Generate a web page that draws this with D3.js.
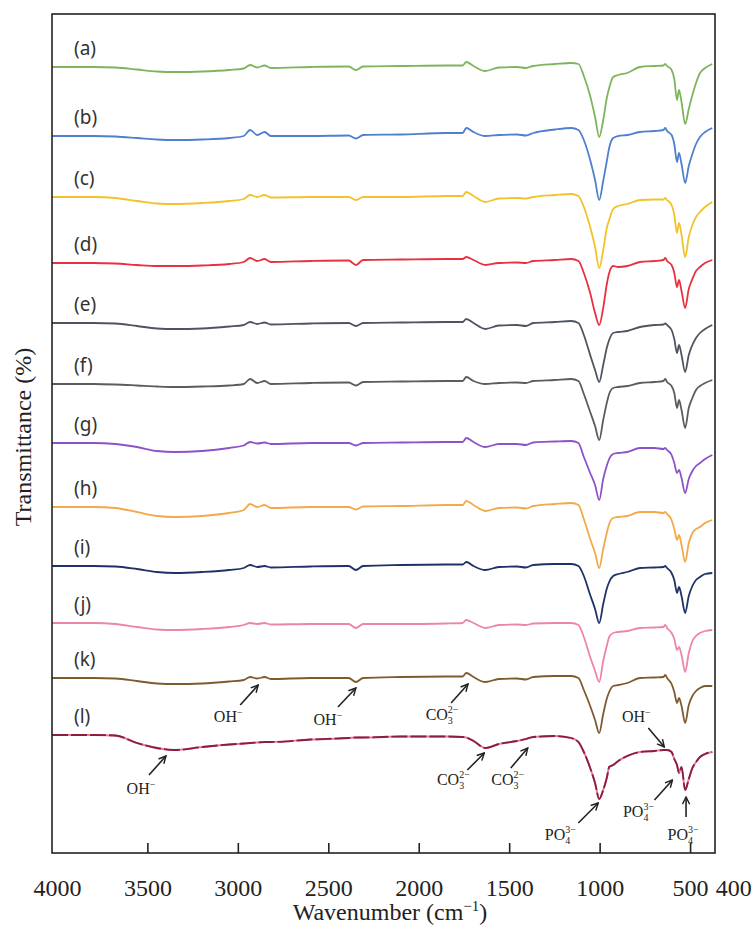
<!DOCTYPE html>
<html>
<head>
<meta charset="utf-8">
<script src="https://cdn.jsdelivr.net/npm/d3@7"></script>
<style>
  body { margin: 0; background: #fff; }
  text { fill: #222; }
  .serif { font-family: 'Liberation Serif', serif; }
</style>
</head>
<body>
<svg id="chart" width="752" height="927"></svg>
<script>
// wavenumber grid shared by all spectra (cm-1)
var wn = [4030, 3800, 3680, 3560, 3450, 3350, 3200, 3050, 2970, 2935, 2895, 2855, 2820, 2600,
  2390, 2350, 2310, 2100, 1850, 1760, 1740, 1700, 1635, 1560, 1460, 1410, 1370, 1250, 1160,
  1120, 1090, 1055, 1028, 1005, 983, 962, 950, 928, 900, 850, 780, 700, 650, 640, 630, 605,
  590, 575, 564, 550, 530, 510, 490, 470, 448, 420, 380];

var names = ['(a)', '(b)', '(c)', '(d)', '(e)', '(f)', '(g)', '(h)', '(i)', '(j)', '(k)', '(l)'];
var colors = ['#7fb45d', '#4f7fcf', '#f2c22a', '#e8313f', '#4e5560', '#5c5c5c',
  '#8c52c8', '#f3a84a', '#1f3268', '#ec86a6', '#7f5a2e', '#8a1e3c'];

// stacking offset of each spectrum (a.u.)
var offsets = [786, 717, 656, 590, 530, 469, 410, 346, 287, 230, 175, 118];

// absorption depth below each spectrum's offset (a.u.)
var dA = [0, 0, 0.5, 2.5, 4.5, 5, 4.5, 3, 1.5, -2, 0.5, -1.5, 1, 0, -0.5, 3, -0.5, -1, -1.5, -1.5, -5, -1, 4, 0.5, 0, 1, -1, -3, -4,
  -3, 9, 29, 50, 70, 53, 30, 21, 10, 8, 6, 0, -1, -1.5, -3, -1, 3, 12, 33, 23, 35, 57, 42, 28, 16, 6, 1, -3];
var dB = [0, 0, 0.5, 2, 3.5, 4, 3.5, 2, 0, -6, -1, -4, 0, 0, -0.5, 2.5, -1, -1.5, -3, -3, -8, -4, 0, -1, -1.5, -0.5, -3, -6.5, -8,
  -6, 4, 24, 44, 64, 45, 24, 12, 2, 0, -1, -4, -5, -6, -8, -5, -1, 8, 26, 17, 28, 47, 30, 18, 8, 1, -4, -8];
var dC = [0, 0, 1, 4, 6.5, 7, 6, 4, 2, -2, 0, -2, 0.5, 0, 0, 3, 0, 0, -1, -1, -5, -1, 5, 1.5, 1, 1.5, 0, -2, -3,
  -1, 10, 30, 50, 71, 53, 30, 23, 12, 9, 7, 3, 2.5, 2.5, 1, 3, 8, 18, 36, 26, 38, 60, 40, 28, 20, 15, 10, 5];
var dD = [0, 0, 0.5, 2, 3, 3, 2.5, 1, -1, -5, -2, -4, -1, -2, -2.5, 2, -3, -3.5, -4, -4, -6, -3, 2, 0, -0.5, 0, -2, -3, -4,
  -2, 10, 30, 50, 62, 45, 20, 10, 3, 4, 3, -1, -2, -3, -5, -2, 2, 10, 24, 17, 28, 45, 26, 16, 8, 4, 0, -3];
var dE = [0, 0, 0.5, 3, 5.5, 6, 5.5, 3.5, 2, -1, 1, -0.5, 1.5, 0.5, 0, 3, 0, -0.5, -1, -1, -4, 0, 6, 2.5, 2, 3, 0, -1, -2,
  0, 12, 32, 47, 59, 42, 24, 17, 10, 9, 8, 4, 2, 1.5, 0.5, 2, 7, 16, 30, 22, 32, 49, 32, 22, 15, 10, 6, 2];
var dF = [0, 0, 0.5, 1.5, 2.5, 3, 2.5, 1.5, 0, -5, -1, -3, 0, -1, -1.5, 1.5, -2, -2.5, -3, -3, -7, -3, 0, -1, -1.5, -1, -3, -4, -5,
  -3, 10, 28, 42, 56, 36, 18, 10, 4, 3, 2, -1, -2, -3, -5, -2, 2, 9, 24, 16, 26, 44, 24, 14, 6, 2, -1, -4];
var dG = [0, 0, 1, 4, 8, 9, 8, 5, 2.5, -1, 0.5, -0.5, 1, 0, 0, 2.5, 0, -0.5, -1, -1, -5, -1, 4, 1, 1, 2, -0.5, -1.5, -2,
  0, 14, 30, 42, 57, 36, 22, 16, 11, 10, 9, 5, 5, 6, 5, 7, 12, 20, 30, 27, 35, 50, 36, 28, 23, 20, 16, 12];
var dH = [0, 0, 1, 5, 9, 10, 9, 6, 3, -3, 0, -2, 1, 0, 0, 2.5, -0.5, -1, -2, -2, -6, -2, 4, 1, 0.5, 1.5, -1, -3, -4,
  -2, 12, 32, 46, 61, 42, 25, 17, 11, 10, 9, 5, 5, 6, 5, 7, 13, 22, 33, 28, 38, 55, 36, 26, 22, 20, 16, 13];
var dI = [0, 0, 0.5, 3, 6, 7, 6, 4, 2, -1, 1, 0, 1.5, 0.5, 0, 4, 0, -1, -1.5, -1.5, -4, 0, 4, 1, 0.5, 1.5, -1, -2, -2,
  0, 10, 29, 43, 57, 38, 22, 16, 10, 8, 6, 2, 1.5, 1, 0, 2, 7, 14, 27, 21, 30, 47, 30, 20, 14, 11, 8, 7];
var dJ = [0, 0, 1, 4, 6.5, 7, 6, 4, 2, 0, 1, 0, 1.5, 1, 1, 5, 1, 1, 0.5, 0, -3, 0, 5, 2, 1.5, 2, 0.5, 0, 0,
  2, 14, 34, 48, 59, 38, 22, 14, 10, 9, 8, 5, 4.5, 4, 2, 5, 10, 16, 27, 24, 32, 49, 30, 18, 13, 10, 8, 7];
var dK = [0, 0, 0.5, 3, 5.5, 6, 5.5, 3.5, 2, -1, 0.5, -1, 1, 0, 0, 4, 0, -1, -1.5, -1.5, -5, -1, 4, 1, 0.5, 1.5, -1, -2, -2,
  0, 12, 28, 42, 55, 36, 20, 14, 8, 7, 5, 0, -0.5, -1, -3, 0, 6, 14, 25, 20, 28, 45, 27, 18, 13, 10, 8, 8];
var dL = [0, 0, 0.5, 8, 13, 15, 12, 9.5, 8.5, 8, 7.5, 7, 7, 4.5, 3, 2.5, 2.5, 1.5, 1.5, 2, 2.5, 6, 13, 9, 6, 4, 2, 1, 3,
  7, 17, 33, 48, 64, 55, 42, 32, 30, 26, 21, 17, 16, 15, 15, 15, 17, 24, 30, 38, 32, 55, 44, 33, 27, 22, 19, 17];
var depths = [dA, dB, dC, dD, dE, dF, dG, dH, dI, dJ, dK, dL];

var tickVals = [3500, 3000, 2500, 2000, 1500, 1000, 500];
var tickLabels = [4000, 3500, 3000, 2500, 2000, 1500, 1000, 500, 400];

// band assignments: text, series index, wavenumber pointed at, depth of arrow tip below offset
var annText = ['OH', 'OH', 'OH', 'CO', 'CO', 'CO', 'PO', 'PO', 'PO', 'OH'];
var annSub = ['', '', '', '3', '3', '3', '4', '4', '4', ''];
var annSup = ['\u2212', '\u2212', '\u2212', '2\u2212', '2\u2212', '2\u2212', '3\u2212', '3\u2212', '3\u2212', '\u2212'];
var annSeries = [10, 10, 11, 10, 11, 11, 11, 11, 11, 11];
var annWn = [2890, 2350, 3400, 1730, 1640, 1400, 1010, 600, 525, 645];
var annDepth = [7, 10, 21, 6, 18, 13, 68, 45, 62, 12];

var svg = d3.select('#chart');
var m = { left: 52, right: 715, top: 14, bottom: 853 };

var x = d3.scaleLinear().domain([4030, 365]).range([m.left, m.right]);
var y = d3.scaleLinear().domain([0, 839]).range([m.bottom, m.top]);

var line = d3.line()
  .x(function (d) { return x(d.w); })
  .y(function (d) { return y(d.v); })
  .curve(d3.curveMonotoneX);

// spectra
depths.forEach(function (arr, i) {
  var pts = wn.map(function (w, j) { return { w: w, v: offsets[i] - arr[j] }; });
  if (i === 11) {
    // last spectrum shows a pink trace under the dark one
    svg.append('path').datum(pts).attr('d', line)
      .attr('fill', 'none').attr('stroke', '#e47f9e').attr('stroke-width', 2);
  }
  svg.append('path')
    .datum(pts)
    .attr('d', line)
    .attr('fill', 'none')
    .attr('stroke', colors[i])
    .attr('stroke-width', 1.8)
    .attr('stroke-dasharray', i === 11 ? '16 3' : null)
    .attr('stroke-linejoin', 'round');

  svg.append('text')
    .attr('x', 74)
    .attr('y', y(offsets[i] + 12))
    .style('font-family', "'Noto Sans', sans-serif")
    .style('font-size', '19px')
    .style('fill', '#333')
    .text(names[i]);
});

// frame
svg.append('rect')
  .attr('x', m.left).attr('y', m.top)
  .attr('width', m.right - m.left).attr('height', m.bottom - m.top)
  .attr('fill', 'none').attr('stroke', '#222').attr('stroke-width', 1.6);

// inward ticks on the bottom axis
svg.append('g').selectAll('line')
  .data(tickVals)
  .enter().append('line')
  .attr('x1', function (d) { return x(d); }).attr('x2', function (d) { return x(d); })
  .attr('y1', m.bottom).attr('y2', m.bottom - 10)
  .attr('stroke', '#222').attr('stroke-width', 1.6);

svg.append('g').selectAll('text')
  .data(tickLabels)
  .enter().append('text')
  .attr('class', 'serif')
  .attr('x', function (d) { return x(d) + (d === 400 ? 25 : 0); })
  .attr('y', 896)
  .attr('text-anchor', 'middle')
  .style('font-size', '24px')
  .text(function (d) { return d; });

// axis titles
var xt = svg.append('text')
  .attr('class', 'serif')
  .attr('x', 390).attr('y', 920)
  .attr('text-anchor', 'middle')
  .style('font-size', '24px');
xt.append('tspan').text('Wavenumber (cm');
xt.append('tspan').attr('dy', -9).style('font-size', '15px').text('\u22121');
xt.append('tspan').attr('dy', 9).text(')');

svg.append('text')
  .attr('class', 'serif')
  .attr('transform', 'translate(31,437) rotate(-90)')
  .attr('text-anchor', 'middle')
  .style('font-size', '24px')
  .text('Transmittance (%)');

// arrow marker
svg.append('defs').append('marker')
  .attr('id', 'head')
  .attr('viewBox', '0 0 10 10')
  .attr('refX', 9).attr('refY', 5)
  .attr('markerWidth', 9).attr('markerHeight', 9)
  .attr('markerUnits', 'userSpaceOnUse')
  .attr('orient', 'auto')
  .append('path')
  .attr('d', 'M1,1 L9,5 L1,9')
  .attr('fill', 'none').attr('stroke', '#222').attr('stroke-width', 1.6);

// annotation layout: tail offset and text centre offset relative to arrow tip
var annTail = [[-18, 20], [-18, 19], [-17, 19], [-17, 19], [-17, 17], [-17, 20], [-20, 20], [-18, 20], [0, 20], [-16, -19]];
var annLbl = [[-30, 32], [-28, 32], [-25, 33], [-26, 31], [-31, 27], [-20, 32], [-38, 32], [-34, 32], [-3, 38], [-28, -30]];

annText.forEach(function (t, i) {
  var tx = x(annWn[i]);
  var ty = y(offsets[annSeries[i]] - annDepth[i]);
  svg.append('line')
    .attr('x1', tx + annTail[i][0]).attr('y1', ty + annTail[i][1])
    .attr('x2', tx).attr('y2', ty)
    .attr('stroke', '#222').attr('stroke-width', 1.6)
    .attr('marker-end', 'url(#head)');

  var lbl = svg.append('text')
    .attr('class', 'serif')
    .attr('x', tx + annLbl[i][0]).attr('y', ty + annLbl[i][1] + 5)
    .attr('text-anchor', 'middle')
    .style('font-size', '16px');
  lbl.append('tspan').text(t);
  if (annSub[i]) {
    lbl.append('tspan').attr('dy', 4).style('font-size', '10px').text(annSub[i]);
    lbl.append('tspan').attr('dx', -5).attr('dy', -11).style('font-size', '10px').text(annSup[i]);
  } else {
    lbl.append('tspan').attr('dy', -6).style('font-size', '10px').text(annSup[i]);
  }
});
</script>
</body>
</html>
